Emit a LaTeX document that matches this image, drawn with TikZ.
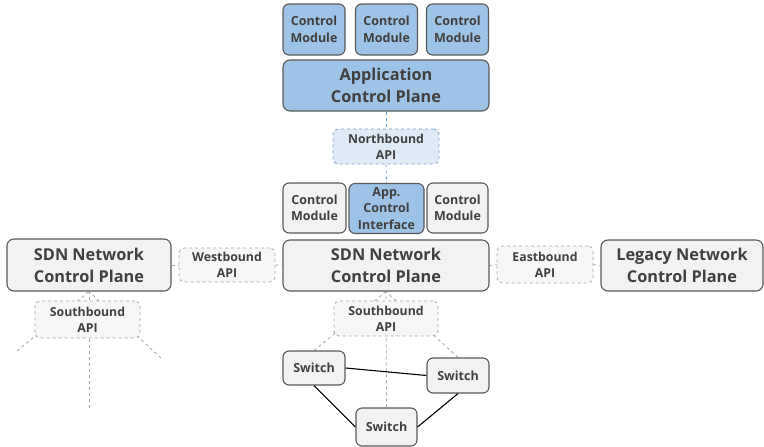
\documentclass[tikz,border=0pt]{standalone}
\usepackage{fontspec}
\setmainfont{Open Sans}
\usetikzlibrary{backgrounds}
\definecolor{txt}{HTML}{404040}
\definecolor{edge}{HTML}{595959}
\definecolor{bluefill}{HTML}{9DC3E6}
\definecolor{grayfill}{HTML}{F2F2F2}
\definecolor{nbfill}{HTML}{DEEBF7}
\definecolor{nbedge}{HTML}{7F9FC8}
\definecolor{apifill}{HTML}{F7F7F7}
\definecolor{apiedge}{HTML}{A6A6A6}
\definecolor{linkblue}{HTML}{5B9BD5}
\tikzset{
  box/.style={draw=edge, line width=1.1pt, rounded corners=7pt, align=center,
    text=txt, inner sep=0pt},
  bigbox/.style={box, font=\bfseries\fontsize{16.3}{22}\selectfont, minimum height=51pt},
  smallbox/.style={box, rounded corners=6pt, font=\bfseries\fontsize{12.5}{16.6}\selectfont},
  bluebox/.style={fill=bluefill},
  graybox/.style={fill=grayfill},
  apibox/.style={draw=apiedge, fill=apifill, dashed, line width=0.8pt, rounded corners=5pt,
    align=center, text=txt, inner sep=0pt, font=\bfseries\fontsize{12.3}{16}\selectfont},
  nbbox/.style={apibox, draw=nbedge, fill=nbfill},
  sbline/.style={draw=apiedge, dashed, line width=0.8pt},
  nbline/.style={draw=linkblue, dashed, line width=0.8pt},
  swline/.style={draw=black, line width=1.1pt},
}
\begin{document}
\begin{tikzpicture}[x=1pt,y=-1pt]
\useasboundingbox (0,0) rectangle (764,447);
% application layer
\node[smallbox,bluebox,minimum width=62pt,minimum height=51pt] (cm1) at (314,29.5) {Control\\Module};
\node[smallbox,bluebox,minimum width=62pt,minimum height=51pt] (cm2) at (386.5,29.5) {Control\\Module};
\node[smallbox,bluebox,minimum width=62pt,minimum height=51pt] (cm3) at (457.5,29.5) {Control\\Module};
\node[bigbox,bluebox,minimum width=206pt] (acp) at (386,85.5) {Application\\Control Plane};
\node[nbbox,minimum width=106pt,minimum height=35pt] (nb) at (386,146.5) {Northbound\\API};
% SDN controller with its modules
\node[smallbox,graybox,minimum width=63pt,minimum height=50pt] (cm4) at (314.5,208) {Control\\Module};
\node[smallbox,bluebox,minimum width=75pt,minimum height=50pt] (aci) at (386.5,208.5) {App.\\Control\\Interface};
\node[smallbox,graybox,minimum width=61pt,minimum height=50pt] (cm5) at (457.5,208) {Control\\Module};
\node[bigbox,graybox,minimum width=206pt] (sdn) at (386,265.5) {SDN Network\\Control Plane};
% neighbouring control planes
\node[bigbox,graybox,minimum width=164pt,minimum height=52pt] (sdnl) at (89,265) {SDN Network\\Control Plane};
\node[apibox,minimum width=96pt,minimum height=34pt] (wb) at (227,265) {Westbound\\API};
\node[apibox,minimum width=96pt,minimum height=37pt] (eb) at (545,264.5) {Eastbound\\API};
\node[bigbox,graybox,minimum width=162pt] (leg) at (682,265.5) {Legacy Network\\Control Plane};
% southbound interfaces
\node[apibox,minimum width=105pt,minimum height=37pt] (sbl) at (87.5,319.5) {Southbound\\API};
\node[apibox,minimum width=104pt,minimum height=35pt] (sb) at (386,318.5) {Southbound\\API};
% switches
\node[smallbox,graybox,minimum width=62pt,minimum height=34pt] (sw1) at (314,368) {Switch};
\node[smallbox,graybox,minimum width=62pt,minimum height=35pt] (sw2) at (458,375.5) {Switch};
\node[smallbox,graybox,minimum width=61pt,minimum height=38pt] (sw3) at (386.5,427) {Switch};
% free ends of the left controller's device links
\coordinate (dl1) at (17,351);
\coordinate (dl2) at (161,358);
\coordinate (dl3) at (89,408);
\begin{pgfonlayer}{background}
  \draw[nbline] (acp.south) -- (nb.north);
  \draw[nbline] (nb.south) -- (aci.north);
  \draw[sbline] (sdnl.east) -- (wb.west);
  \draw[sbline] (wb.east) -- (sdn.west);
  \draw[sbline] (sdn.east) -- (eb.west);
  \draw[sbline] (eb.east) -- (leg.west);
  \draw[sbline] (sw1.north) -- (sdn.south);
  \draw[sbline] (sw2.north) -- (sdn.south);
  \draw[sbline] (sw3.north) -- (sdn.south);
  \draw[sbline] (dl1) -- (sdnl.south);
  \draw[sbline] (dl2) -- (sdnl.south);
  \draw[sbline] (dl3) -- (sdnl.south);
\end{pgfonlayer}
\draw[swline] (sw1.east) -- (sw2.west);
\draw[swline] (sw1.south) -- (sw3.west);
\draw[swline] (sw3.east) -- (sw2.south);
\end{tikzpicture}
\end{document}
